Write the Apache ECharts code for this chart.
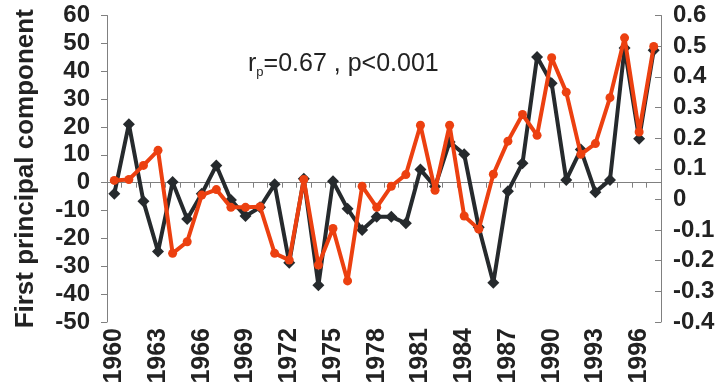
<!DOCTYPE html>
<html>
<head>
<meta charset="utf-8">
<script src="https://cdn.jsdelivr.net/npm/echarts@6/dist/echarts.min.js"></script>
<style>html,body{margin:0;padding:0;background:#fff;}#c{width:720px;height:387px;}</style>
</head>
<body>
<div id="c"></div>
<script>
const years = ['1960','1961','1962','1963','1964','1965','1966','1967','1968','1969','1970','1971','1972','1973','1974','1975','1976','1977','1978','1979','1980','1981','1982','1983','1984','1985','1986','1987','1988','1989','1990','1991','1992','1993','1994','1995','1996','1997'];
const firstPC = [-4, 21, -6.7, -24.7, 0.2, -13, -4, 6.2, -6.2, -12, -8.8, -0.6, -28.7, 1.4, -36.8, 0.5, -9.4, -17, -12.2, -12.2, -14.6, 4.7, -1.4, 14.6, 10.2, -16, -35.9, -3.1, 7, 45.1, 35.7, 1, 11.9, -3.4, 1, 48.3, 15.8, 47.5];
const secondSeries = [0.062, 0.065, 0.111, 0.16, -0.176, -0.138, 0.014, 0.032, -0.026, -0.026, -0.024, -0.176, -0.198, 0.065, -0.214, -0.095, -0.266, 0.043, -0.026, 0.043, 0.081, 0.242, 0.03, 0.242, -0.054, -0.097, 0.082, 0.19, 0.277, 0.209, 0.462, 0.35, 0.147, 0.182, 0.332, 0.527, 0.22, 0.499];
const leftTicks = {min: -50, max: 60, interval: 10};
const rightTicks = {min: -0.4, max: 0.6, interval: 0.1};

const FONT = "'Liberation Sans', Arial, sans-serif";
const chart = echarts.init(document.getElementById('c'));
chart.setOption({
  backgroundColor: '#fff',
  animation: false,
  title: {
    left: 243, top: 44,
    text: '{a|r}{b|p}{a|=0.67 , p<0.001}',
    textStyle: {
      fontWeight: 'normal',
      rich: {
        a: {fontFamily: FONT, fontSize: 25, fontWeight: 'normal', color: '#222', lineHeight: 30, verticalAlign: 'middle'},
        b: {fontFamily: FONT, fontSize: 13, fontWeight: 'normal', color: '#222', lineHeight: 30, verticalAlign: 'bottom'}
      }
    }
  },
  grid: {left: 107, right: 59, top: 15.5, bottom: 65, containLabel: false},
  xAxis: {
    type: 'category', data: years, boundaryGap: true,
    axisLine: {lineStyle: {color: '#808080', width: 1}},
    axisTick: {show: true, interval: 0, length: 5, lineStyle: {color: '#808080'}},
    axisLabel: {interval: 2, rotate: 90, fontFamily: FONT, fontSize: 25, fontWeight: 'bold', color: '#222', margin: 6}
  },
  yAxis: [
    {
      type: 'value', min: leftTicks.min, max: leftTicks.max, interval: leftTicks.interval,
      name: 'First principal component', nameLocation: 'middle', nameGap: 68,
      nameTextStyle: {fontFamily: FONT, fontSize: 26, fontWeight: 'bold', color: '#222'},
      axisLine: {show: true, lineStyle: {color: '#808080'}},
      axisTick: {show: true, length: 6, lineStyle: {color: '#808080'}},
      splitLine: {show: false},
      axisLabel: {fontFamily: FONT, fontSize: 24, fontWeight: 'bold', color: '#222', margin: 17}
    },
    {
      type: 'value', position: 'right', min: rightTicks.min, max: rightTicks.max, interval: rightTicks.interval,
      axisLine: {show: true, lineStyle: {color: '#808080'}},
      axisTick: {show: true, inside: true, length: 6, lineStyle: {color: '#808080'}},
      splitLine: {show: false},
      axisLabel: {fontFamily: FONT, fontSize: 24, fontWeight: 'bold', color: '#222', margin: 12,
        formatter: v => (Math.round(v*10)/10).toString()}
    }
  ],
  series: [
    {
      type: 'line', name: 'PC1', yAxisIndex: 0, data: firstPC,
      symbol: 'diamond', symbolSize: 12, showAllSymbol: true,
      lineStyle: {color: '#262a2d', width: 4},
      itemStyle: {color: '#262a2d'}, z: 2
    },
    {
      type: 'line', name: 'S2', yAxisIndex: 1, data: secondSeries,
      symbol: 'circle', symbolSize: 9, showAllSymbol: true,
      lineStyle: {color: '#ec4010', width: 4},
      itemStyle: {color: '#ec4010'}, z: 3
    }
  ]
});
</script>
</body>
</html>
